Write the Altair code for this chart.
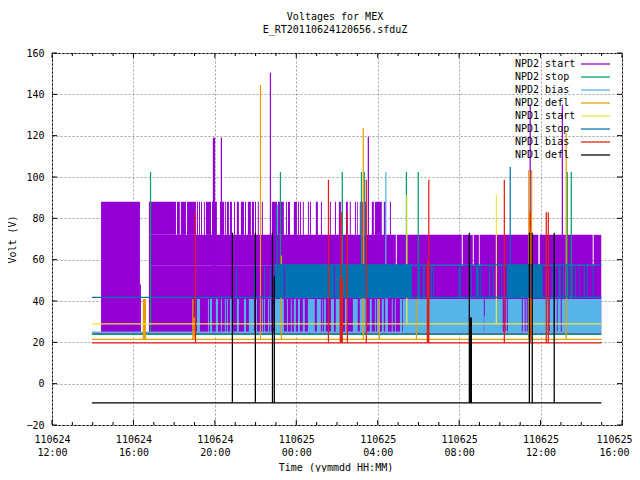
import json
import altair as alt
import pandas as pd

FONT = "DejaVu Sans Mono"
names = ["NPD2 start", "NPD2 stop", "NPD2 bias", "NPD2 defl", "NPD1 start", "NPD1 stop", "NPD1 bias", "NPD1 defl"]
colors = ["#9400D3", "#009E73", "#56B4E9", "#E69F00", "#F0E442", "#0072B2", "#E51E10", "#000000"]

# x is hours since 110624 12:00
x_major = [0, 4, 8, 12, 16, 20, 24, 28]
x_minor = [h for h in range(0, 29) if h % 4]
x_dates = ["110624", "110624", "110624", "110625", "110625", "110625", "110625", "110625"]
x_times = ["12:00", "16:00", "20:00", "00:00", "04:00", "08:00", "12:00", "16:00"]
y_major = [-20, 0, 20, 40, 60, 80, 100, 120, 140, 160]
t_first, t_last = 1.96, 26.99

# NPD2 start: filled stretches (start, end, low, high)
purple_full = [(2.41, 4.32, 25, 88), (4.32, 4.37, 25, 48), (4.76, 26.98, 25, 57)]
purple_mid_start = [4.76, 16.94, 20.18, 20.72, 21.01, 23.96, 26.61]
purple_mid_end = [16.89, 20.13, 20.67, 20.97, 23.89, 26.56, 26.98]
purple_top_start = [4.76, 6.14, 6.33, 6.63, 7.12, 7.22, 7.32, 7.46, 7.56, 7.86, 8.25, 8.49, 8.59, 8.74, 8.94, 9.08, 9.28,
                    9.48, 9.62, 9.82, 9.97, 10.11, 10.31, 10.80, 11.10, 11.49, 11.59, 11.88, 12.08, 12.18, 12.32, 12.57,
                    12.67, 12.96, 13.21, 13.65, 13.90, 14.09, 14.24, 14.44, 14.63, 14.88, 14.98, 15.12, 15.22, 15.37,
                    15.52, 15.71, 15.86, 16.30, 16.60]
purple_top_end = [6.09, 6.28, 6.58, 7.07, 7.17, 7.27, 7.37, 7.51, 7.81, 8.10, 8.45, 8.54, 8.69, 8.84, 8.99, 9.18, 9.43,
                  9.53, 9.77, 9.92, 10.02, 10.16, 10.36, 11.05, 11.39, 11.54, 11.69, 12.03, 12.13, 12.23, 12.37, 12.62,
                  12.72, 13.06, 13.26, 13.70, 13.95, 14.19, 14.29, 14.53, 14.68, 14.93, 15.02, 15.17, 15.32, 15.42,
                  15.56, 15.81, 16.20, 16.40, 16.65]
purple_spike_t = [7.93, 7.98, 8.32, 10.73, 15.54, 23.49, 25.07]
purple_spike_v = [119, 119, 119, 150.5, 119.5, 135, 135]

green_spike_t = [4.84, 11.22, 14.26, 15.20, 15.34, 17.41, 17.99, 25.31, 25.51]
green_spike_v = [102.4, 102.4, 102.4, 102.4, 102.4, 102.4, 102.4, 102.4, 102.4]

# NPD2 bias: stretches at 41 V
light_start = [7.12, 7.66, 7.76, 8.05, 8.30, 8.49, 8.59, 8.74, 9.08, 9.43, 9.67, 10.02, 10.31, 10.41, 10.61, 10.70, 10.80,
               10.95, 11.54, 11.73, 11.88, 12.08, 12.32, 12.57, 13.01, 13.26, 13.36, 13.70, 13.94, 14.39, 14.78, 15.12,
               15.61, 15.86, 15.96, 16.20, 16.40, 16.69, 16.84, 17.09, 17.23, 21.26, 22.29, 22.39, 23.13, 23.27, 23.37,
               24.45, 24.70, 24.84, 25.04]
light_end = [7.27, 7.71, 7.86, 8.15, 8.35, 8.54, 8.64, 8.84, 9.18, 9.53, 9.92, 10.07, 10.36, 10.46, 10.66, 10.75, 10.85,
             11.39, 11.59, 11.78, 11.98, 12.18, 12.42, 12.91, 13.21, 13.30, 13.45, 13.85, 14.14, 14.48, 15.02, 15.47,
             15.71, 15.91, 16.10, 16.30, 16.50, 16.74, 16.89, 17.19, 21.21, 22.14, 22.34, 23.08, 23.22, 23.32, 24.40,
             24.65, 24.80, 24.99, 26.98]
light_low_stretch = [(21.21, 21.26, 25, 33)]
light_spike_t = [16.40]
light_spike_v = [102.4]

orange_spike_t = [4.49, 4.54, 4.59, 6.92, 6.97, 7.02, 10.24, 11.27, 15.29, 16.08, 17.90, 23.42, 23.56, 25.26]
orange_spike_v = [41, 41, 41, 41, 32, 32, 144.5, 62, 123.7, 41, 41, 103.4, 103.4, 121.3]

yellow_spike_t = [17.43, 21.83, 23.49]
yellow_spike_v = [91.3, 91.3, 75.8]

# NPD1 stop: stretches at 57.5 V
blue_start = [9.03, 9.92, 10.41, 10.70, 10.95, 11.44, 13.90, 17.97, 18.22, 18.61, 18.71, 19.98, 20.57, 20.82, 21.06, 21.46,
              21.65, 22.05, 22.34, 24.26, 24.55, 24.70, 24.89, 25.09, 25.24, 25.38, 25.53, 25.68, 25.88, 26.12, 26.27, 26.56]
blue_end = [9.08, 9.97, 10.46, 10.75, 11.39, 13.85, 17.68, 18.07, 18.31, 18.66, 18.76, 20.08, 20.62, 20.97, 21.11, 21.51,
            21.70, 22.09, 24.11, 24.30, 24.60, 24.75, 24.99, 25.14, 25.29, 25.43, 25.58, 25.73, 25.92, 26.17, 26.32, 26.61]
blue_spike_t = [11.05, 22.51]
blue_spike_v = [86.6, 104.8]

red_spike_t = [7.05, 13.58, 14.16, 14.21, 14.26, 14.21, 14.51, 15.44, 18.44, 18.49, 18.51, 22.22, 23.49, 24.28, 24.38]
red_spike_v = [83, 98.7, 51, 51, 51, 83, 83, 98.7, 59, 59, 98.7, 98.7, 83, 83, 83]

black_spike_t = [8.86, 9.99, 10.83, 10.92, 20.50, 20.55, 20.60, 23.45, 23.59, 24.67]
black_spike_v = [73, 73, 73, 52, 73, 32, 32, 73, 73, 73]

# idle level of every channel
level = {"purple": 24.4, "green": 23.9, "light": 24.9, "orange": 21.4, "yellow": 28.9, "blue": 41.7, "red": 19.7, "black": -9.3}

LINE = 1.25
x_scale = alt.Scale(domain=[0, 28], nice=False, zero=False)
y_scale = alt.Scale(domain=[-20, 160], nice=False, zero=False)
label_expr = "[%s[datum.value/4], %s[datum.value/4]]" % (json.dumps(x_dates), json.dumps(x_times))
x_axis = alt.Axis(
    values=x_major, title="Time (yymmdd HH:MM)", labelExpr=label_expr, labelLineHeight=13, ticks=False, domain=False,
    grid=True, gridColor="#a0a0a0", gridDash=[2, 2], gridWidth=1, labelPadding=9, labelFontSize=10, labelFont=FONT,
    labelColor="black", labelAngle=0, titleFont=FONT, titleFontSize=10, titleFontWeight="normal", titleColor="black",
    titlePadding=5, titleX=283.5, labelOverlap=False, labelFlush=False,
    labelOffset={"condition": {"test": "datum.value === 28", "value": -8}, "value": 0})
y_axis = alt.Axis(
    values=y_major, title="Volt (V)", ticks=False, domain=False, grid=True, gridColor="#a0a0a0", gridDash=[2, 2],
    gridWidth=1, labelPadding=8, labelFontSize=10, labelFont=FONT, labelColor="black", titleFont=FONT, titleFontSize=10,
    titleFontWeight="normal", titleColor="black", titlePadding=8, labelOverlap=False, labelFlush=False)


def X(field):
    return alt.X(field, scale=x_scale, axis=x_axis)


def Y(field):
    return alt.Y(field, scale=y_scale, axis=y_axis)


def bands(rows, color):
    df = pd.DataFrame(rows, columns=["a", "b", "lo", "hi"])
    return alt.Chart(df).mark_rect(color=color, stroke=None).encode(x=X("a:Q"), x2="b:Q", y=Y("lo:Q"), y2="hi:Q")


def spikes(ts, vs, base, color):
    df = pd.DataFrame({"t": ts, "v": vs, "base": base})
    return alt.Chart(df).mark_rule(color=color, strokeWidth=LINE).encode(x=X("t:Q"), y=Y("base:Q"), y2="v:Q")


def hline(v, color, t0=t_first, t1=t_last, width=LINE):
    df = pd.DataFrame({"a": [t0], "b": [t1], "v": [v]})
    return alt.Chart(df).mark_rule(color=color, strokeWidth=width).encode(x=X("a:Q"), x2="b:Q", y=Y("v:Q"))


layers = []
# purple
layers += [bands(purple_full, colors[0]),
           bands([(a, b, 57, 72) for a, b in zip(purple_mid_start, purple_mid_end)], colors[0]),
           bands([(a, b, 72, 88) for a, b in zip(purple_top_start, purple_top_end)], colors[0]),
           spikes(purple_spike_t, purple_spike_v, level["purple"], colors[0]),
           hline(level["purple"], colors[0])]
# green
layers += [spikes(green_spike_t, green_spike_v, level["green"], colors[1]), hline(level["green"], colors[1], width=1.6)]
# light blue
layers += [bands([(a, b, 25, 41) for a, b in zip(light_start, light_end)] + light_low_stretch, colors[2]),
           spikes(light_spike_t, light_spike_v, level["light"], colors[2]), hline(level["light"], colors[2])]
# orange
layers += [spikes(orange_spike_t, orange_spike_v, level["orange"], colors[3]), hline(level["orange"], colors[3])]
# yellow
layers += [spikes(yellow_spike_t, yellow_spike_v, level["yellow"], colors[4]), hline(level["yellow"], colors[4])]
# blue
layers += [bands([(a, b, 41.7, 57.5) for a, b in zip(blue_start, blue_end)], colors[5]),
           spikes(blue_spike_t, blue_spike_v, level["blue"], colors[5]), hline(level["blue"], colors[5]),
           hline(57.5, colors[5], t0=10.95)]
# red
layers += [spikes(red_spike_t, red_spike_v, level["red"], colors[6]), hline(level["red"], colors[6])]
# black
layers += [spikes(black_spike_t, black_spike_v, level["black"], colors[7]), hline(level["black"], colors[7])]

# inward tick marks on all four sides
tick_black = "#000000"
for values, length in ((x_major, 5), (x_minor, 3)):
    d = pd.DataFrame({"t": values})
    layers.append(alt.Chart(d).mark_rule(color=tick_black).encode(x=X("t:Q"), y=alt.value(372), y2=alt.value(372 - length)))
    layers.append(alt.Chart(d).mark_rule(color=tick_black).encode(x=X("t:Q"), y=alt.value(0), y2=alt.value(length)))
d = pd.DataFrame({"v": y_major})
layers.append(alt.Chart(d).mark_rule(color=tick_black).encode(y=Y("v:Q"), x=alt.value(0), x2=alt.value(5)))
layers.append(alt.Chart(d).mark_rule(color=tick_black).encode(y=Y("v:Q"), x=alt.value(570), x2=alt.value(565)))

# key inside the plot, upper right
key = pd.DataFrame({"name": names, "color": colors, "i": range(len(names))})
layers.append(alt.Chart(key).transform_calculate(py="11 + datum.i * 13").mark_text(
    align="left", baseline="middle", font=FONT, fontSize=10, color="black").encode(
    x=alt.value(463), y=alt.Y("py:Q", scale=None, axis=None), text="name:N"))
layers.append(alt.Chart(key).transform_calculate(py="11 + datum.i * 13").mark_rule(strokeWidth=LINE).encode(
    x=alt.value(529), x2=alt.value(558), y=alt.Y("py:Q", scale=None, axis=None),
    color=alt.Color("color:N", scale=None, legend=None)))

chart = alt.layer(*layers).resolve_scale(x="shared", y="shared").properties(
    width=570, height=372,
    autosize=alt.AutoSizeParams(type="none"),
    padding={"left": 44, "top": 45, "right": 10, "bottom": 47},
    background="white",
    title=alt.TitleParams(text=["Voltages for MEX", "E_RT20110624120656.sfduZ"], font=FONT, fontSize=10,
                          fontWeight="normal", color="black", anchor="middle", lineHeight=13, offset=13, dx=-2),
).configure_view(stroke="black", strokeWidth=1)

chart.save("out.html", embed_options={"renderer": "svg", "actions": False})
